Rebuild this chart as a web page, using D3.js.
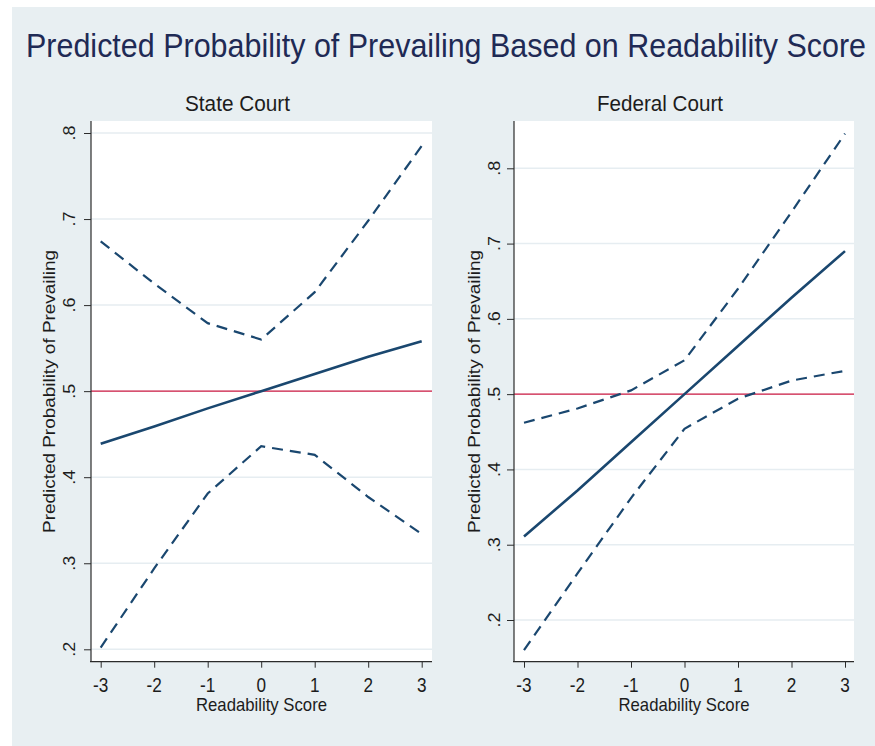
<!DOCTYPE html>
<html><head><meta charset="utf-8">
<script src="https://cdnjs.cloudflare.com/ajax/libs/d3/7.8.5/d3.min.js"></script>
<style>
html,body{margin:0;padding:0;background:#fff;}
svg{display:block;}
text{font-family:"Liberation Sans",Arial,sans-serif;}
</style></head>
<body>
<svg id="chart" width="875" height="746"></svg>
<script>
// ---- data ----
const scores = [-3, -2, -1, 0, 1, 2, 3];
const xTicks = [-3, -2, -1, 0, 1, 2, 3];
const yTicks = [0.2, 0.3, 0.4, 0.5, 0.6, 0.7, 0.8];
const yTickLabels = [".2", ".3", ".4", ".5", ".6", ".7", ".8"];
const refLine = 0.5;
const stateFit   = [0.439, 0.459, 0.480, 0.500, 0.520, 0.540, 0.558];
const stateUpper = [0.674, 0.625, 0.579, 0.560, 0.615, 0.698, 0.785];
const stateLower = [0.202, 0.294, 0.381, 0.436, 0.426, 0.377, 0.334];
const fedFit   = [0.311, 0.372, 0.436, 0.500, 0.564, 0.628, 0.690];
const fedUpper = [0.462, 0.481, 0.505, 0.545, 0.640, 0.742, 0.846];
const fedLower = [0.160, 0.262, 0.362, 0.454, 0.494, 0.518, 0.531];
const titleText = "Predicted Probability of Prevailing Based on Readability Score";
const panelTitles = ["State Court", "Federal Court"];
const xTitle = "Readability Score";
const yTitle = "Predicted Probability of Prevailing";

// ---- styles ----
const BG = "#e8eff2", NAVY = "#1a476f", RED = "#d21c45", GRID = "#e6edf1", AX = "#2b2b2b", TXT = "#1c1c1c";
const SQ = 0.88; // horizontal text compression seen in the reference

const svg = d3.select("#chart");
svg.append("rect").attr("x", 12).attr("y", 7).attr("width", 863).attr("height", 739).attr("fill", BG);

function squeeze(sel) {
  sel.each(function () {
    const w = this.getComputedTextLength();
    d3.select(this).attr("textLength", w * SQ).attr("lengthAdjust", "spacingAndGlyphs");
  });
}

svg.append("text").attr("transform", "translate(446,57) scale(1,1.12)").attr("text-anchor", "middle")
  .attr("font-size", 30.3).attr("fill", "#1f2a55").text(titleText)
  .attr("textLength", 840).attr("lengthAdjust", "spacingAndGlyphs");

const panels = [
  { title: panelTitles[0], fit: stateFit, up: stateUpper, lo: stateLower,
    box: [91, 432, 121, 661.7], xr: [100.7, 421.7], yr: [649.3, 133], titleX: 237.5, titleW: 105,
    ylabX: 55, tickLabX: 75 },
  { title: panelTitles[1], fit: fedFit, up: fedUpper, lo: fedLower,
    box: [514, 854, 121, 661.7], xr: [524, 845], yr: [620, 168.3], titleX: 660, titleW: 126,
    ylabX: 480, tickLabX: 500 }
];

panels.forEach(p => {
  const [x0, x1, y0, y1] = p.box;
  const x = d3.scaleLinear().domain([-3, 3]).range(p.xr);
  const y = d3.scaleLinear().domain([0.2, 0.8]).range(p.yr);
  const g = svg.append("g");

  g.append("rect").attr("x", x0).attr("y", y0).attr("width", x1 - x0).attr("height", y1 - y0).attr("fill", "#fff");

  // grid
  g.selectAll(".grid").data(yTicks).join("line")
    .attr("x1", x0).attr("x2", x1).attr("y1", d => y(d)).attr("y2", d => y(d))
    .attr("stroke", GRID).attr("stroke-width", 1.5);

  // reference line
  g.append("line").attr("x1", x0).attr("x2", x1).attr("y1", y(refLine)).attr("y2", y(refLine))
    .attr("stroke", RED).attr("stroke-width", 1.3);

  // y axis
  const ya = d3.axisLeft(y).tickValues(yTicks).tickSize(7).tickFormat("");
  const yg = g.append("g").attr("transform", `translate(${x0},0)`).call(ya);
  yg.select(".domain").remove();
  yg.selectAll(".tick line").attr("stroke", AX);
  g.append("line").attr("x1", x0).attr("x2", x0).attr("y1", y0).attr("y2", y1).attr("stroke", AX).attr("stroke-width", 1.2);
  g.selectAll(".ytl").data(yTicks).join("text")
    .attr("transform", d => `translate(${p.tickLabX},${y(d)}) rotate(-90) scale(1,${SQ})`)
    .attr("text-anchor", "middle").attr("font-size", 18).attr("fill", TXT)
    .text((d, i) => yTickLabels[i]);

  // x axis
  const xa = d3.axisBottom(x).tickValues(xTicks).tickSize(6).tickFormat("");
  const xg = g.append("g").attr("transform", `translate(0,${y1})`).call(xa);
  xg.select(".domain").remove();
  xg.selectAll(".tick line").attr("stroke", AX);
  g.append("line").attr("x1", x0 - 1).attr("x2", x1).attr("y1", y1).attr("y2", y1).attr("stroke", AX).attr("stroke-width", 1.2);
  g.selectAll(".xtl").data(xTicks).join("text")
    .attr("x", d => x(d)).attr("y", 691.5).attr("text-anchor", "middle")
    .attr("font-size", 19.5).attr("fill", TXT).text(d => d3.format("d")(d).replace("\u2212", "-"))
    .call(squeeze);

  // axis titles
  g.append("text").attr("x", (x0 + x1) / 2).attr("y", 711).attr("text-anchor", "middle")
    .attr("font-size", 19).attr("fill", TXT).text(xTitle).call(squeeze);
  g.append("text").attr("transform", `translate(${p.ylabX},391.5) rotate(-90) scale(1,${SQ})`)
    .attr("text-anchor", "middle").attr("font-size", 19).attr("fill", TXT).text(yTitle)
    .attr("textLength", 283).attr("lengthAdjust", "spacingAndGlyphs");

  // panel title
  g.append("text").attr("x", p.titleX).attr("y", 110.5).attr("text-anchor", "middle")
    .attr("font-size", 22).attr("fill", TXT).text(p.title)
    .attr("textLength", p.titleW).attr("lengthAdjust", "spacingAndGlyphs");

  // lines
  const line = d3.line().x((d, i) => x(scores[i])).y(d => y(d));
  g.append("path").attr("d", line(p.up)).attr("fill", "none").attr("stroke", NAVY)
    .attr("stroke-width", 2.2).attr("stroke-dasharray", "11,7");
  g.append("path").attr("d", line(p.lo)).attr("fill", "none").attr("stroke", NAVY)
    .attr("stroke-width", 2.2).attr("stroke-dasharray", "11,7");
  g.append("path").attr("d", line(p.fit)).attr("fill", "none").attr("stroke", NAVY)
    .attr("stroke-width", 2.6);
});
</script>
</body></html>
